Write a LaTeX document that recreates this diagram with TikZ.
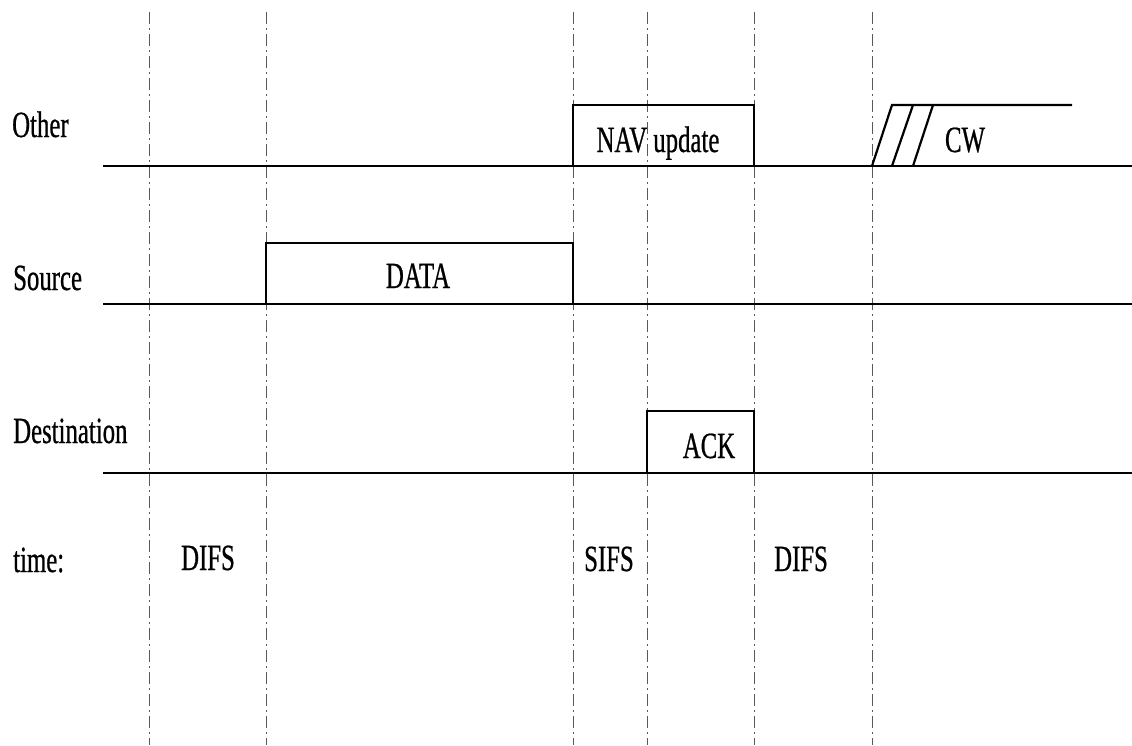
\documentclass[tikz,border=0pt]{standalone}
\usepackage{fontspec}
\newfontfamily\narrowserif[FakeStretch=0.67,FakeBold=0.6]{Liberation Serif}
\begin{document}
\begin{tikzpicture}[x=1pt,y=-1pt,
  lbl/.style={inner sep=0pt,font=\narrowserif\fontsize{37}{40}\selectfont,text=black},
  guide/.style={gray!70!black,line width=1pt,dash pattern=on 12pt off 4pt on 2pt off 4pt},
  axis/.style={black,line width=2.8pt},
  pulse/.style={black,line width=2.2pt}]
\useasboundingbox (0,0) rectangle (1132,745);
% vertical guides
\foreach \x [count=\i] in {149,266,573,647,754,872}{
  \coordinate (g\i t) at (\x,12);
  \coordinate (g\i b) at (\x,745);
  \draw[guide] (g\i t) -- (g\i b);
}
% time axes
\coordinate (oL) at (103,166); \coordinate (oR) at (1132,166);
\coordinate (sL) at (103,304); \coordinate (sR) at (1132,304);
\coordinate (dL) at (103,473); \coordinate (dR) at (1132,473);
\draw[axis] (oL) -- (oR);
\draw[axis] (sL) -- (sR);
\draw[axis] (dL) -- (dR);
% pulses
\draw[pulse] (573,166) -- (573,105) -- (754,105) -- (754,166);
\draw[pulse] (266,304) -- (266,243) -- (573,243) -- (573,304);
\draw[pulse] (647,473) -- (647,411) -- (754,411) -- (754,473);
% contention window
\draw[pulse] (872,166) -- (892,105) -- (1072,105);
\draw[pulse] (892,166) -- (913,105);
\draw[pulse] (913,166) -- (933,105);
% labels
\node[lbl,anchor=base west] (other) at (12,137) {Other};
\node[lbl,anchor=base west] (source) at (13,290) {Source};
\node[lbl,anchor=base west] (dest) at (13,443) {Destination};
\node[lbl,anchor=base west] (time) at (13,572) {time:};
\node[lbl,anchor=base] (nav) at (658,152) {NAV update};
\node[lbl,anchor=base] (data) at (418,288) {DATA};
\node[lbl,anchor=base] (ack) at (709,458) {ACK};
\node[lbl,anchor=base] (cw) at (965,152) {CW};
\node[lbl,anchor=base] (difsA) at (208,570) {DIFS};
\node[lbl,anchor=base] (sifs) at (609,571) {SIFS};
\node[lbl,anchor=base] (difsB) at (801,571) {DIFS};
\end{tikzpicture}
\end{document}
